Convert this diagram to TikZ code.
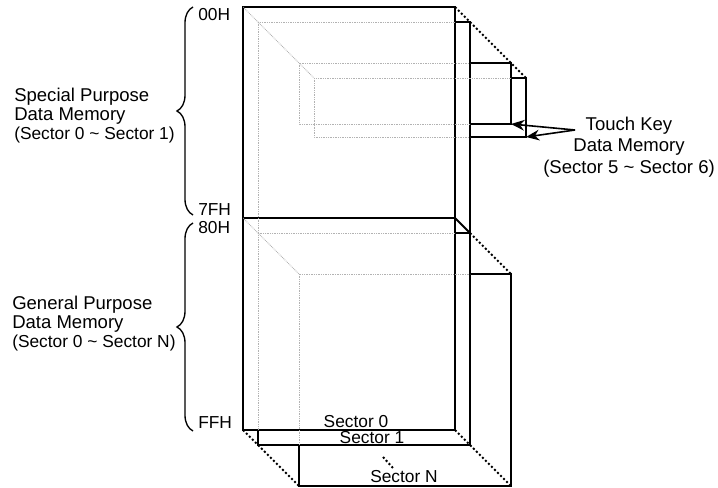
\documentclass[tikz,border=0pt]{standalone}
\usepackage{fontspec}
\setmainfont{Liberation Sans}
\usetikzlibrary{arrows.meta,decorations.pathreplacing,positioning}

\begin{document}
\begin{tikzpicture}[x=0.75pt, y=-0.75pt,
        box/.style={line width=1.5pt},
        hidden/.style={black!30, line width=0.6pt, dash pattern=on 0.6pt off 0.7pt},
        depth/.style={line width=1.5pt, dash pattern=on 1.5pt off 1.7pt},
        biglbl/.style={font=\fontsize{13.9}{14.3}\selectfont, inner sep=0pt},
        lbl/.style={font=\fontsize{13}{14}\selectfont, inner sep=0pt},
        addr/.style={lbl, anchor=west},
        pointer/.style={line width=1.2pt, -{Stealth[length=10pt, width=8pt]}},
        curly/.style={line width=1pt, decorate, decoration={brace, amplitude=12pt}}]
        \useasboundingbox (0,0) rectangle (718,488);
        %%Sectors, back to front
        \filldraw[box, fill=white] (299,274) rectangle (511,486);
        \filldraw[box, fill=white] (314,78) rectangle (526,137);
        \filldraw[box, fill=white] (299,63) rectangle (511,124);
        \filldraw[box, fill=white] (258,22) rectangle (470,445);
        \draw[box] (258,233) to (470,233);
        \filldraw[box, fill=white] (243,7) rectangle (455,430);
        \draw[box] (243,218) to (455,218);
        \coordinate (sec5end) at (511,124);
        \coordinate (sec6end) at (526,137);
        %%Hidden edges
        \begin{scope}
            \clip (243,7) rectangle (455,430);
            \draw[hidden] (258,22) rectangle (470,445) (258,233) to (470,233);
        \end{scope}
        \begin{scope}
            \clip (243,7) rectangle (455,430) (258,22) rectangle (470,445);
            \draw[hidden] (299,63) rectangle (511,124) (299,274) rectangle (511,486);
            \draw[hidden] (243,7) to (314,78) (243,218) to (299,274);
        \end{scope}
        \begin{scope}
            \clip (243,7) rectangle (455,430) (258,22) rectangle (470,445) (299,63) rectangle (511,124);
            \draw[hidden] (314,78) rectangle (526,137);
        \end{scope}
        %%Depth lines
        \draw[depth] (455,7) to (526,78);
        \draw[box] (455,218) to (470,233);
        \draw[depth] (470,233) to (511,274);
        \draw[depth] (243,430) to (299,486);
        \draw[depth] (455,430) to (511,486);
        \draw[depth] (383,457) to (393,468);
        \node[lbl] (sec0) at (356,422) {Sector 0};
        \node[lbl] (sec1) at (372,437.5) {Sector 1};
        \node[lbl] (secN) at (404,477) {Sector N};
        %%Addresses
        \node[addr] (a00) at (198,15) {00H};
        \node[addr] (a7f) at (198,210) {7FH};
        \node[addr] (a80) at (198,228) {80H};
        \node[addr] (aff) at (198,423) {FFH};
        \draw[curly] (193,215) to (193,7);
        \draw[curly] (193,431) to (193,223);
        %%Memory labels
        \node[biglbl, align=left, anchor=west] (spmem) at (14,116)
            {Special Purpose\\Data Memory\\{\fontsize{13}{14.3}\selectfont (Sector 0 \textasciitilde{} Sector 1)}};
        \node[biglbl, align=left, anchor=west] (gpmem) at (12,324)
            {General Purpose\\Data Memory\\{\fontsize{13}{14.3}\selectfont (Sector 0 \textasciitilde{} Sector N)}};
        \node[biglbl, align=center, font=\fontsize{13.9}{16.1}\selectfont] (tkmem) at (629,147)
            {Touch Key\\Data Memory\\(Sector 5 \textasciitilde{} Sector 6)};
        \coordinate (tkfrom) at (575,130);
        \draw[pointer] (tkfrom) to (sec5end);
        \draw[pointer] (tkfrom) to (sec6end);
    \end{tikzpicture}
\end{document}
